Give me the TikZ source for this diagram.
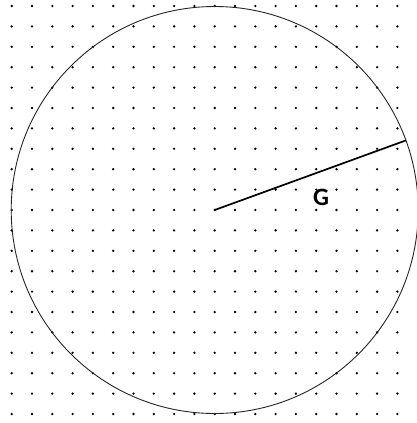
\documentclass[tikz,border=0pt]{standalone}
\usepackage{fontspec}
\setmainfont{Carlito}
\begin{document}
\begin{tikzpicture}[x=1pt,y=-1pt,
  griddot/.style={fill=black,draw=none},
  rim/.style={draw=black!85,line width=0.9pt},
  radius line/.style={draw=black,line width=1.7pt},
  lbl/.style={font=\bfseries\fontsize{25}{29}\selectfont,inner sep=0pt}]
\useasboundingbox (0,0) rectangle (416,423);
\fill[white] (0,0) rectangle (416,423);
\foreach \i in {0,...,19}{
  \foreach \j in {0,...,20}{
    \fill[griddot] ({11.7+20.3*\i},{6+20.4*\j}) circle (1.3pt);
  }
}
\coordinate (O) at (214.7,210);
\coordinate (E) at (405.9,140.4);
\draw[rim] (O) circle (203.5pt);
\draw[radius line] (O) -- (E);
\node[lbl] (G) at (321,197) {G};
\end{tikzpicture}
\end{document}
